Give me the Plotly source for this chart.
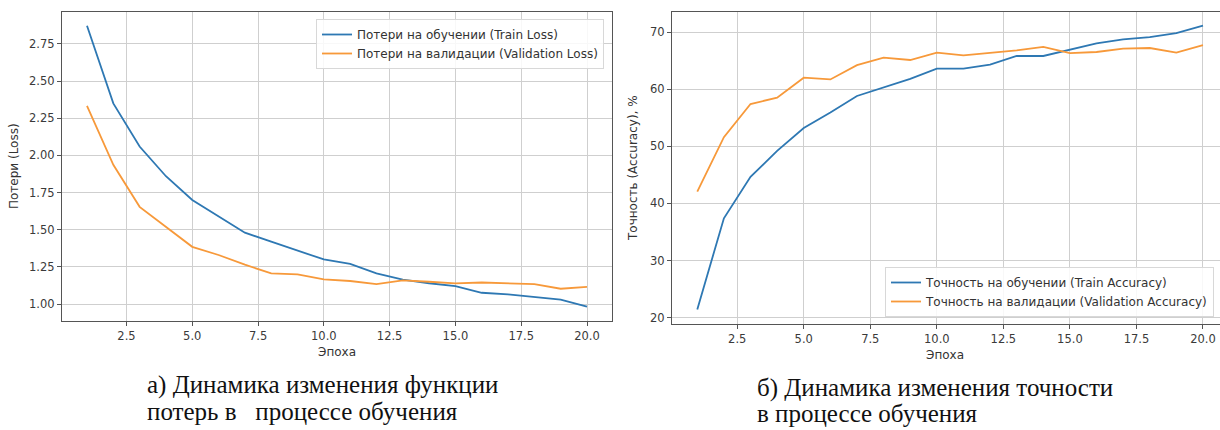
import plotly.graph_objects as go

epochs = list(range(1, 21))
train_loss = [2.873, 2.35, 2.06, 1.86, 1.70, 1.59, 1.48, 1.42, 1.36, 1.30,
              1.27, 1.206, 1.165, 1.14, 1.121, 1.076, 1.065, 1.049, 1.03, 0.982]
val_loss = [2.333, 1.937, 1.654, 1.52, 1.385, 1.33, 1.265, 1.206, 1.20, 1.166,
            1.155, 1.134, 1.16, 1.15, 1.139, 1.145, 1.14, 1.134, 1.103, 1.116]
train_acc = [21.45, 37.4, 44.65, 49.2, 53.2, 55.9, 58.8, 60.3, 61.8, 63.6,
             63.6, 64.3, 65.8, 65.8, 66.9, 68.0, 68.7, 69.1, 69.8, 71.1]
val_acc = [42.06, 51.6, 57.4, 58.5, 62.0, 61.7, 64.2, 65.5, 65.1, 66.4,
           65.9, 66.3, 66.8, 67.4, 66.3, 66.5, 67.1, 67.2, 66.4, 67.7]

loss_names = ["Потери на обучении (Train Loss)", "Потери на валидации (Validation Loss)"]
acc_names = ["Точность на обучении (Train Accuracy)", "Точность на валидации (Validation Accuracy)"]
x_ticks = [2.5, 5.0, 7.5, 10.0, 12.5, 15.0, 17.5, 20.0]
loss_ticks = [1.00, 1.25, 1.50, 1.75, 2.00, 2.25, 2.50, 2.75]
acc_ticks = [20, 30, 40, 50, 60, 70]

BLUE = "#2e78b3"
ORANGE = "#f7993a"
W, H = 1220, 430

def px(x):
    return x / W

def py(y):
    return 1 - y / H

fig = go.Figure()
fig.add_trace(go.Scatter(x=epochs, y=train_loss, mode="lines", name=loss_names[0],
                         line=dict(color=BLUE, width=1.8), xaxis="x", yaxis="y", legend="legend"))
fig.add_trace(go.Scatter(x=epochs, y=val_loss, mode="lines", name=loss_names[1],
                         line=dict(color=ORANGE, width=1.8), xaxis="x", yaxis="y", legend="legend"))
fig.add_trace(go.Scatter(x=epochs, y=train_acc, mode="lines", name=acc_names[0],
                         line=dict(color=BLUE, width=1.8), xaxis="x2", yaxis="y2", legend="legend2"))
fig.add_trace(go.Scatter(x=epochs, y=val_acc, mode="lines", name=acc_names[1],
                         line=dict(color=ORANGE, width=1.8), xaxis="x2", yaxis="y2", legend="legend2"))

tickfont = dict(family="DejaVu Sans", size=11.5, color="#3a3a3a")
grid = "#cfcfcf"
frame = "#555555"

common_x = dict(tickvals=x_ticks, ticktext=[f"{v:.1f}" for v in x_ticks], showgrid=True,
                gridcolor=grid, gridwidth=1, showline=True, linecolor=frame, linewidth=1.2,
                ticks="outside", ticklen=4, tickcolor=frame, tickfont=tickfont, zeroline=False)

fig.update_layout(
    width=W, height=H, margin=dict(l=0, r=0, t=0, b=0),
    paper_bgcolor="white", plot_bgcolor="white",
    xaxis=dict(domain=[px(62), px(612)], range=[0.05, 20.95], anchor="y", mirror=True, **common_x),
    yaxis=dict(domain=[py(321), py(12)], range=[0.886, 2.965], anchor="x",
               tickvals=loss_ticks, ticktext=[f"{v:.2f}" for v in loss_ticks],
               showgrid=True, gridcolor=grid, gridwidth=1, showline=True, linecolor=frame,
               linewidth=1.2, mirror=True, ticks="outside", ticklen=4, tickcolor=frame,
               tickfont=tickfont, zeroline=False),
    xaxis2=dict(domain=[px(672), 1.0], range=[0.05, 20.64], anchor="y2", mirror=True, **common_x),
    yaxis2=dict(domain=[py(324), py(12)], range=[18.9, 73.5], anchor="x2",
                tickvals=acc_ticks, ticktext=[str(v) for v in acc_ticks],
                showgrid=True, gridcolor=grid, gridwidth=1, showline=True, linecolor=frame,
                linewidth=1.2, mirror=False, ticks="outside", ticklen=4, tickcolor=frame,
                tickfont=tickfont, zeroline=False),
    legend=dict(x=px(316), y=py(19), xanchor="left", yanchor="top",
                bgcolor="rgba(255,255,255,0.85)", bordercolor="#d8d8d8", borderwidth=1,
                font=dict(family="DejaVu Sans", size=12, color="#333333"),
                tracegroupgap=0, itemwidth=30),
    legend2=dict(x=px(885), y=py(317), xanchor="left", yanchor="bottom",
                 bgcolor="rgba(255,255,255,0.85)", bordercolor="#d8d8d8", borderwidth=1,
                 font=dict(family="DejaVu Sans", size=12, color="#333333"),
                 tracegroupgap=0, itemwidth=30),
    showlegend=True,
)

label_font = dict(family="DejaVu Sans", size=12, color="#333333")
annots = [
    dict(text="Потери (Loss)", x=px(14), y=py(166), textangle=-90, font=label_font),
    dict(text="Эпоха", x=px(337), y=py(352), font=label_font),
    dict(text="Точность (Accuracy), %", x=px(633), y=py(168), textangle=-90, font=label_font),
    dict(text="Эпоха", x=px(945), y=py(355), font=label_font),
]
for a in annots:
    fig.add_annotation(xref="paper", yref="paper", showarrow=False,
                       xanchor="center", yanchor="middle", **a)

cap_font = dict(family="Liberation Serif", size=25, color="#111111")
captions = [
    ("а) Динамика изменения функции", 145, 385),
    ("потерь в&nbsp;&nbsp;&nbsp;процессе обучения", 145, 411),
    ("б) Динамика изменения точности", 755, 388),
    ("в процессе обучения", 755, 413),
]
for t, x, y in captions:
    fig.add_annotation(xref="paper", yref="paper", showarrow=False, text=t,
                       x=px(x), y=py(y), xanchor="left", yanchor="middle", font=cap_font)

fig.write_html("out.html", config={"displayModeBar": False},
               post_script="document.body.style.margin='0';document.body.style.overflow='hidden';")
